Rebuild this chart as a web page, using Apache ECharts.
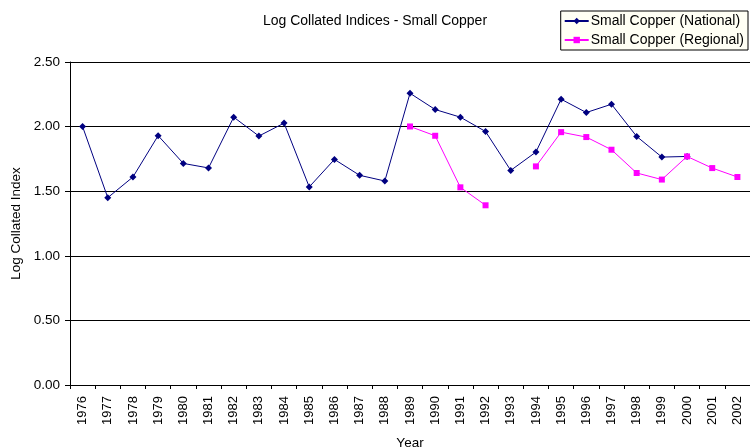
<!DOCTYPE html>
<html>
<head>
<meta charset="utf-8">
<script src="https://cdn.jsdelivr.net/npm/echarts@6/dist/echarts.min.js"></script>
<style>html,body{margin:0;padding:0;background:#fff;}#c{width:750px;height:448px;}</style>
</head>
<body>
<div id="c"></div>
<script>
const years = ['1976','1977','1978','1979','1980','1981','1982','1983','1984','1985','1986','1987','1988','1989','1990','1991','1992','1993','1994','1995','1996','1997','1998','1999','2000','2001','2002'];
const national = [2.00,1.45,1.61,1.93,1.715,1.68,2.073,1.927,2.027,1.533,1.746,1.623,1.579,2.258,2.132,2.073,1.962,1.661,1.803,2.212,2.109,2.173,1.924,1.764,1.769,null,null];
const regional = [null,null,null,null,null,null,null,null,null,null,null,null,null,2.001,1.929,1.530,1.391,null,1.692,1.957,1.919,1.821,1.641,1.590,1.769,1.679,1.610];

const chart = echarts.init(document.getElementById('c'), null, {renderer:'canvas'});
const font = 'Liberation Sans, Arial, sans-serif';
chart.setOption({
  animation:false,
  textStyle:{fontFamily:font},
  title:{text:'Log Collated Indices - Small Copper',left:'center',top:14,padding:0,
    textStyle:{fontSize:14,fontWeight:'normal',color:'#000',fontFamily:font}},
  legend:{orient:'vertical',right:2,top:11,itemGap:5,itemWidth:24,itemHeight:8,
    borderColor:'#000',borderWidth:1,backgroundColor:'#fffff4',padding:[3,4,3,3],
    textStyle:{fontSize:14,color:'#000',fontFamily:font,padding:[0,0,0,-3]},
    data:['Small Copper (National)','Small Copper (Regional)']},
  grid:{left:70,right:0,top:62,bottom:63,outerBoundsMode:'none',containLabel:false},
  xAxis:{type:'category',data:years,boundaryGap:true,
    name:'Year',nameLocation:'middle',nameGap:51,
    nameTextStyle:{fontSize:13.5,color:'#000',fontFamily:font},
    axisLine:{lineStyle:{color:'#000',width:1}},
    axisTick:{show:true,alignWithLabel:false,length:4,lineStyle:{color:'#000'}},
    axisLabel:{rotate:90,fontSize:13,color:'#000',margin:11,interval:0,fontFamily:font},
    splitLine:{show:false}},
  yAxis:{type:'value',min:0,max:2.5,interval:0.5,
    name:'Log Collated Index',nameLocation:'middle',nameGap:45,
    nameTextStyle:{fontSize:13.5,color:'#000',fontFamily:font},
    axisLine:{show:true,lineStyle:{color:'#000',width:1}},
    axisTick:{show:true,length:5,lineStyle:{color:'#000'}},
    axisLabel:{fontSize:13.5,color:'#000',margin:10,fontFamily:font,
      formatter:v=>v.toFixed(2)},
    splitLine:{show:true,lineStyle:{color:'#000',width:1}}},
  series:[
    {name:'Small Copper (National)',type:'line',data:national,connectNulls:false,
      symbol:'diamond',symbolSize:7,showAllSymbol:true,
      lineStyle:{color:'#000080',width:1},itemStyle:{color:'#000080'}},
    {name:'Small Copper (Regional)',type:'line',data:regional,connectNulls:false,
      symbol:'rect',symbolSize:6,showAllSymbol:true,
      lineStyle:{color:'#ff00ff',width:1},itemStyle:{color:'#ff00ff'}}
  ]
});
</script>
</body>
</html>
